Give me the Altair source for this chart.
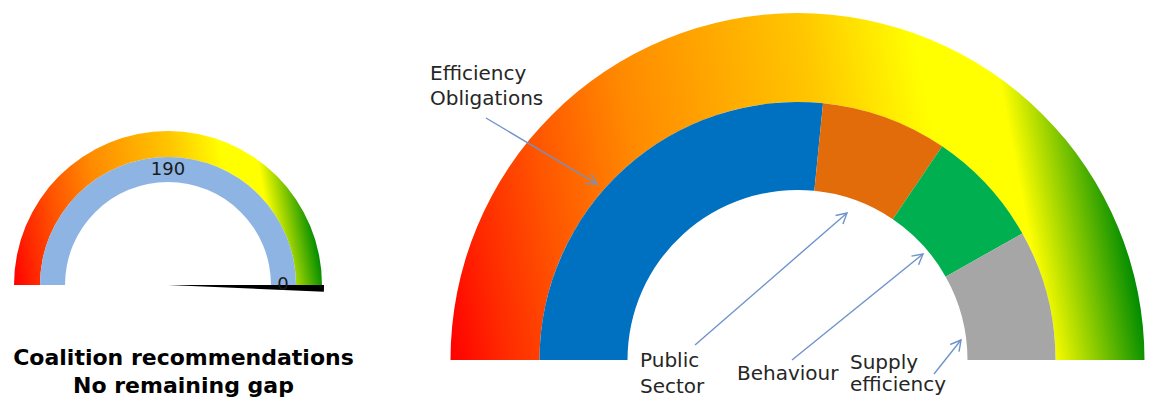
import math
import altair as alt
import pandas as pd

# ---------------- data ----------------
segment_names = ["Efficiency Obligations", "Public Sector", "Behaviour", "Supply efficiency"]
segment_values = [101, 30, 28, 31]
segment_colors = ["#0070C0", "#E36C0A", "#00B050", "#A6A6A6"]
gauge_max = 190

coalition_values = [190]
remaining_gap = [0]

title_text = "Coalition recommendations\nNo remaining gap"

annot_labels = ["Efficiency\nObligations", "Public\nSector", "Behaviour", "Supply\nefficiency"]
annot_x = [422, 632, 729, 842]
annot_y = [72, 359, 371.5, 361]
annot_lh = [25, 25.5, 24, 22]

# arrows (chart coordinates): start -> end
arrow_x = [478, 687, 784, 926]
arrow_y = [110, 337, 352, 366]
arrow_x2 = [589, 839, 915, 953]
arrow_y2 = [176, 205, 246, 332]

# ---------------- layout / style ----------------
FONT = "DejaVu Sans"
PI = math.pi
L2R = [1.5 * PI, 2.5 * PI]
BX, BY = 789.5, 352        # big gauge centre
SX, SY = 160, 277          # small gauge centre

grad = {
    "gradient": "linear", "x1": 0, "y1": 1, "x2": 1, "y2": 0.905,
    "stops": [
        {"offset": 0.0, "color": "#FF0000"},
        {"offset": 0.08, "color": "#FF2A00"},
        {"offset": 0.18, "color": "#FF5500"},
        {"offset": 0.32, "color": "#FF8A00"},
        {"offset": 0.59, "color": "#FFC600"},
        {"offset": 0.75, "color": "#FFFF00"},
        {"offset": 0.86, "color": "#FFFF00"},
        {"offset": 1.0, "color": "#008C00"},
    ],
}

big_df = pd.DataFrame({"name": segment_names, "value": segment_values,
                       "order": list(range(len(segment_names)))})
ring_df = pd.DataFrame({"value": [gauge_max]})
coal_df = pd.DataFrame({"value": coalition_values})
needle_df = pd.DataFrame({"lo": remaining_gap, "hi": [v - 2.6 for v in remaining_gap]})

big_scale = alt.Scale(domain=[0, gauge_max], range=L2R)
small_scale = alt.Scale(domain=[gauge_max, 0], range=L2R)

big_ring = alt.Chart(ring_df).mark_arc(radius=347, radius2=258, color=grad).encode(
    x=alt.value(BX), y=alt.value(BY),
    theta=alt.Theta("value:Q", scale=big_scale),
)

big_segments = alt.Chart(big_df).mark_arc(radius=258, radius2=170).encode(
    x=alt.value(BX), y=alt.value(BY),
    theta=alt.Theta("value:Q", stack=True, scale=big_scale),
    color=alt.Color("name:N", scale=alt.Scale(domain=segment_names, range=segment_colors), legend=None),
    order=alt.Order("order:Q"),
)

small_ring = alt.Chart(ring_df).mark_arc(radius=154, radius2=128, color=grad).encode(
    x=alt.value(SX), y=alt.value(SY),
    theta=alt.Theta("value:Q", scale=small_scale),
)

small_band = alt.Chart(coal_df).mark_arc(radius=128, radius2=103, color="#8DB4E2").encode(
    x=alt.value(SX), y=alt.value(SY),
    theta=alt.Theta("value:Q", stack=True, scale=small_scale),
)

needle = alt.Chart(needle_df).mark_arc(radius=156, color="#000000").encode(
    x=alt.value(SX), y=alt.value(SY),
    theta=alt.Theta("lo:Q", stack=False, scale=small_scale),
    theta2=alt.Theta2("hi:Q"),
)

band_label = alt.Chart(coal_df).mark_text(radius=115, font=FONT, fontSize=18, color="#1a1a1a",
                                           baseline="middle", align="center").encode(
    x=alt.value(SX), y=alt.value(SY),
    theta=alt.Theta("value:Q", stack=True, scale=small_scale),
    text=alt.Text("value:Q"),
)

needle_label = alt.Chart(needle_df).mark_text(radius=115, font=FONT, fontSize=18, color="#1a1a1a",
                                               baseline="middle", align="center").encode(
    x=alt.value(SX), y=alt.value(SY),
    theta=alt.Theta("lo:Q", stack=False, scale=small_scale),
    text=alt.Text("lo:Q"),
)

title = alt.Chart(pd.DataFrame({"t": [title_text]})).mark_text(
    font=FONT, fontSize=22, fontWeight="bold", color="#000000", align="center",
    baseline="alphabetic", lineBreak="\n", lineHeight=28,
).encode(x=alt.value(175.5), y=alt.value(357), text="t:N")

annot_layers = []
for lab, ax, ay, lh in zip(annot_labels, annot_x, annot_y, annot_lh):
    df = pd.DataFrame({"label": [lab], "x": [ax], "y": [ay]})
    annot_layers.append(
        alt.Chart(df).mark_text(
            font=FONT, fontSize=20, color="#262626", align="left", baseline="alphabetic",
            lineBreak="\n", lineHeight=lh,
        ).encode(x=alt.X("x:Q", scale=None), y=alt.Y("y:Q", scale=None), text="label:N")
    )

arrow_df = pd.DataFrame({"x": arrow_x, "y": arrow_y, "x2": arrow_x2, "y2": arrow_y2})
arrow_df["ang"] = [math.degrees(math.atan2(x2 - x1, -(y2 - y1))) % 360
                   for x1, y1, x2, y2 in zip(arrow_x, arrow_y, arrow_x2, arrow_y2)]
ARROW = "#6F93CB"
shafts = alt.Chart(arrow_df).mark_rule(color=ARROW, strokeWidth=1.4).encode(
    x=alt.X("x:Q", scale=None), y=alt.Y("y:Q", scale=None),
    x2="x2:Q", y2="y2:Q",
)
heads = alt.Chart(arrow_df).mark_point(
    shape="M -0.55 1 L 0 0 L 0.55 1", filled=False, color=ARROW, strokeWidth=1.4,
    size=420, opacity=1,
).encode(
    x=alt.X("x2:Q", scale=None), y=alt.Y("y2:Q", scale=None),
    angle=alt.Angle("ang:Q", scale=None),
)

chart = alt.layer(
    big_ring, big_segments, small_ring, small_band, needle,
    band_label, needle_label, title, *annot_layers, shafts, heads,
).resolve_scale(theta="independent").properties(
    width=1137, height=391, padding=0, autosize="none",
).configure_view(stroke=None)

chart.save("out.html", embed_options={"renderer": "svg", "actions": False})
